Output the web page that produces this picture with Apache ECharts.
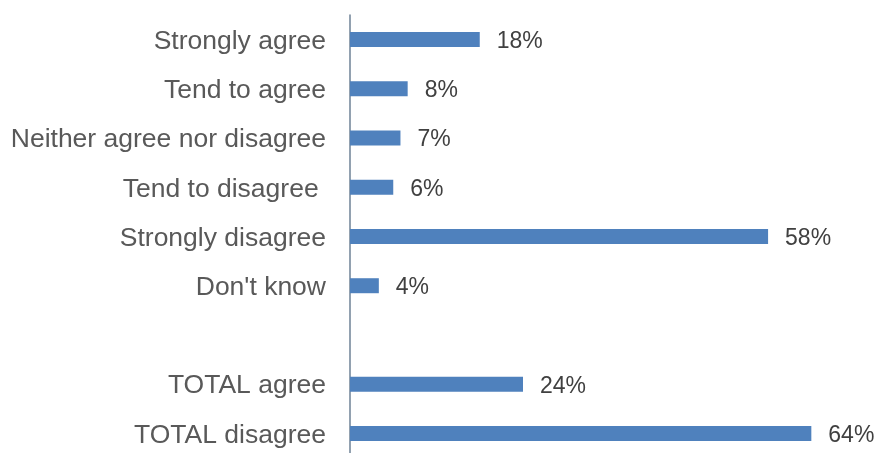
<!DOCTYPE html>
<html>
<head>
<meta charset="utf-8">
<script src="https://cdn.jsdelivr.net/npm/echarts@6/dist/echarts.min.js"></script>
<style>
  html, body { margin: 0; padding: 0; background: #ffffff; }
  #chart { width: 879px; height: 453px; }
</style>
</head>
<body>
<div id="chart"></div>
<script>
// Survey responses, top to bottom; the empty entry is a spacer row
const categories = [
  'Strongly agree',
  'Tend to agree',
  'Neither agree nor disagree',
  'Tend to disagree ',
  'Strongly disagree',
  "Don't know",
  '',
  'TOTAL agree',
  'TOTAL disagree'
];
const percentages = [18, 8, 7, 6, 58, 4, null, 24, 64];

const textFont = 'Liberation Sans, Arial, sans-serif';

const chart = echarts.init(document.getElementById('chart'));
chart.setOption({
  animation: false,
  backgroundColor: '#ffffff',
  grid: {
    left: 350,
    top: 15,
    width: 519,
    height: 443,
    containLabel: false,
    outerBoundsMode: 'none'
  },
  xAxis: {
    type: 'value',
    min: 0,
    max: 72,
    show: false
  },
  yAxis: {
    type: 'category',
    inverse: true,
    data: categories,
    axisLine: { show: true, lineStyle: { color: '#6e8296', width: 1.5 } },
    axisTick: { show: false },
    axisLabel: {
      margin: 24,
      formatter: v => (v ? '{cat|' + v + '}' : ''),
      rich: {
        cat: {
          color: '#595959',
          fontFamily: textFont,
          fontSize: 26.5,
          padding: [4, 0, 0, 0]
        }
      }
    }
  },
  series: [{
    type: 'bar',
    data: percentages,
    barWidth: 15,
    itemStyle: { color: '#4f81bd' },
    label: {
      show: true,
      position: 'right',
      distance: 17,
      offset: [0, 2],
      formatter: p => (p.value == null ? '' : p.value + '%'),
      color: '#404040',
      fontFamily: textFont,
      fontSize: 23
    }
  }]
});
</script>
</body>
</html>
